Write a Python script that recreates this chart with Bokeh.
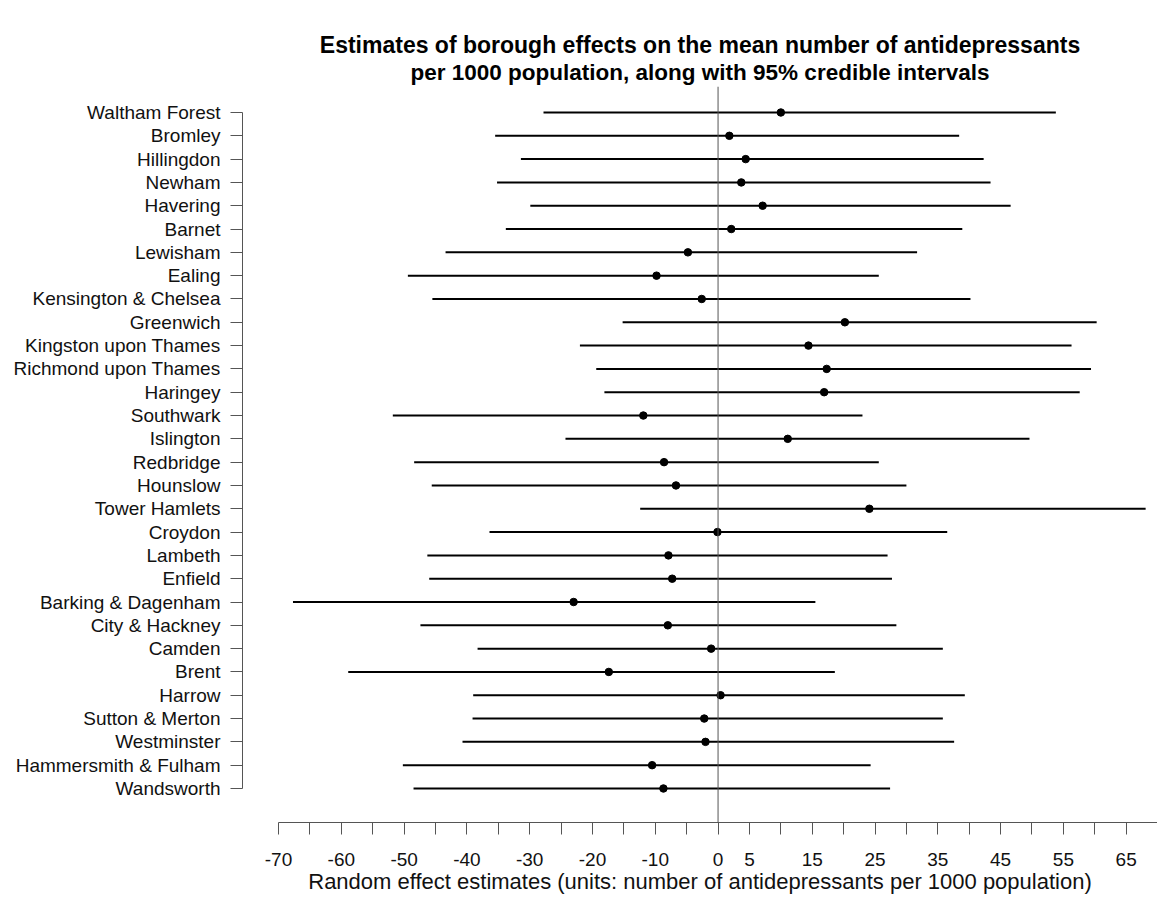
from bokeh.plotting import figure
from bokeh.models import Range1d, FixedTicker, Span, Title
from bokeh.embed import file_html
from bokeh.resources import INLINE

boroughs = ["Waltham Forest", "Bromley", "Hillingdon", "Newham", "Havering", "Barnet",
            "Lewisham", "Ealing", "Kensington & Chelsea", "Greenwich", "Kingston upon Thames",
            "Richmond upon Thames", "Haringey", "Southwark", "Islington", "Redbridge",
            "Hounslow", "Tower Hamlets", "Croydon", "Lambeth", "Enfield", "Barking & Dagenham",
            "City & Hackney", "Camden", "Brent", "Harrow", "Sutton & Merton", "Westminster",
            "Hammersmith & Fulham", "Wandsworth"]
lower = [-27.8, -35.5, -31.4, -35.2, -29.9, -33.8, -43.4, -49.4, -45.5, -15.2, -22.0,
         -19.4, -18.1, -51.8, -24.3, -48.4, -45.6, -12.4, -36.4, -46.3, -46.0, -67.7,
         -47.4, -38.3, -58.9, -39.0, -39.1, -40.7, -50.2, -48.5]
estimate = [10.0, 1.8, 4.4, 3.7, 7.1, 2.1, -4.8, -9.8, -2.6, 20.2, 14.4, 17.3, 16.9,
            -11.9, 11.1, -8.6, -6.7, 24.1, -0.1, -7.9, -7.3, -23.0, -8.0, -1.1, -17.4,
            0.4, -2.2, -2.0, -10.5, -8.7]
upper = [53.8, 38.4, 42.3, 43.4, 46.6, 38.9, 31.7, 25.6, 40.2, 60.3, 56.3, 59.4, 57.6,
         23.0, 49.6, 25.6, 30.0, 68.1, 36.5, 27.0, 27.7, 15.5, 28.4, 35.8, 18.6, 39.3,
         35.8, 37.6, 24.3, 27.4]
x_ticks = list(range(-70, 75, 5))
x_tick_labels = ["-70", "-60", "-50", "-40", "-30", "-20", "-10", "0", "5", "15", "25",
                 "35", "45", "55", "65"]

title_lines = ["Estimates of borough effects on the mean number of antidepressants",
               "per 1000 population, along with 95% credible intervals"]
x_title = "Random effect estimates (units: number of antidepressants per 1000 population)"

n = len(boroughs)
ys = list(range(n, 0, -1))

FONT = "Liberation Sans"
AX = "#555555"

p = figure(width=1157, height=904, output_backend="svg", toolbar_location=None,
           x_range=Range1d(-75.74, 69.99), y_range=Range1d(-0.459, 31.115),
           min_border_left=242, min_border_right=0, min_border_top=86, min_border_bottom=82)
p.outline_line_color = None
p.grid.visible = False
p.background_fill_color = "white"
p.border_fill_color = "white"

# y axis
ya = p.yaxis[0]
ya.ticker = FixedTicker(ticks=ys)
ya.major_label_overrides = {y: name for y, name in zip(ys, boroughs)}
ya.bounds = (1, n)
ya.major_tick_out = 12
ya.major_tick_in = 0
ya.minor_tick_out = 0
ya.minor_tick_in = 0
ya.major_label_standoff = 10
ya.axis_line_color = AX
ya.major_tick_line_color = AX
ya.major_label_text_font = FONT
ya.major_label_text_font_size = "19px"
ya.major_label_text_color = "#111111"

# x axis
xa = p.xaxis[0]
xa.ticker = FixedTicker(ticks=x_ticks)
xa.major_label_overrides = {t: (str(t) if str(t) in x_tick_labels else "") for t in x_ticks}
xa.bounds = (-70, 70)
xa.major_tick_out = 12
xa.major_tick_in = 0
xa.minor_tick_out = 0
xa.minor_tick_in = 0
xa.major_label_standoff = 18
xa.axis_line_color = AX
xa.major_tick_line_color = AX
xa.major_label_text_font = FONT
xa.major_label_text_font_size = "19px"
xa.major_label_text_color = "#111111"
xa.axis_label = x_title
xa.axis_label_standoff = 0
xa.axis_label_text_font = FONT
xa.axis_label_text_font_size = "22px"
xa.axis_label_text_font_style = "normal"
xa.axis_label_text_color = "#111111"

p.add_layout(Span(location=0, dimension="height", line_color=AX, line_width=1))

p.segment(x0=lower, y0=ys, x1=upper, y1=ys, line_color="black", line_width=2)
p.scatter(x=estimate, y=ys, size=7.5, color="black")

p.add_layout(Title(text=title_lines[1], align="center", text_font=FONT,
                   text_font_style="bold", text_font_size="22.5px", text_color="black",
                   standoff=4), "above")
p.add_layout(Title(text=title_lines[0], align="center", text_font=FONT,
                   text_font_style="bold", text_font_size="23px", text_color="black",
                   standoff=-4), "above")

open("out.html", "w").write(file_html(p, INLINE))
